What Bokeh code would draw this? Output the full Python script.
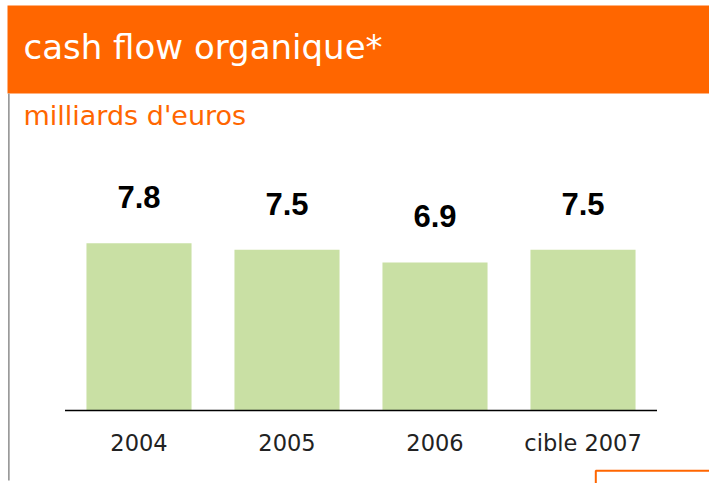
from bokeh.plotting import figure
from bokeh.models import Range1d, BoxAnnotation, Label, ColumnDataSource
from bokeh.core.properties import value
from bokeh.embed import file_html
from bokeh.resources import INLINE

# ---- data ----
categories = ["2004", "2005", "2006", "cible 2007"]
values = [7.8, 7.5, 6.9, 7.5]
value_labels = ["7.8", "7.5", "6.9", "7.5"]
title_text = "cash flow organique*"
subtitle_text = "milliards d'euros"

ORANGE = "#ff6600"
GREEN = "#c9e0a4"

W, H = 709, 483
# layout: category pitch 148px, first category centre 138.5px, zero line at 410px from top
PITCH, X0, Y0, YSCALE = 148.0, 138.5, 410.0, 21.45
x_start = -X0 / PITCH
x_end = x_start + W / PITCH
y_start = -(H - Y0) / YSCALE
y_end = y_start + H / YSCALE

p = figure(
    width=W, height=H,
    x_range=Range1d(x_start, x_end),
    y_range=Range1d(y_start, y_end),
    output_backend="svg", toolbar_location=None,
    x_axis_location=None, y_axis_location=None,
    min_border=0,
)
p.outline_line_color = None
p.grid.visible = False
p.background_fill_color = "white"
p.border_fill_color = "white"

idx = list(range(len(categories)))
src = ColumnDataSource(dict(x=idx, top=values, lab=value_labels, cat=categories,
                            zero=[0] * len(idx)))
p.vbar(x="x", top="top", bottom=0, width=0.71, source=src,
       fill_color=GREEN, line_color=None)
p.text(x="x", y="top", text="lab", source=src, text_align="center",
       text_baseline="alphabetic", y_offset=-46,
       text_font=value("Liberation Sans"), text_font_style="bold",
       text_font_size="31px", text_color="black")
p.text(x="x", y="zero", text="cat", source=src, text_align="center",
       text_baseline="alphabetic", y_offset=32,
       text_font=value("DejaVu Sans"), text_font_size="22.5px", text_color="#222222")
# baseline spanning the category slots
p.segment(x0=[-0.5], x1=[len(categories) - 0.5], y0=[0], y1=[0],
          line_color="black", line_width=1.5)

# header band
p.add_layout(BoxAnnotation(left=7, right=W, top=5, bottom=93,
                           left_units="canvas", right_units="canvas",
                           bottom_units="canvas", top_units="canvas",
                           fill_color=ORANGE, fill_alpha=1, line_color=None))
# grey left rule
p.add_layout(BoxAnnotation(left=7.5, right=9.2, top=93, bottom=480,
                           left_units="canvas", right_units="canvas",
                           bottom_units="canvas", top_units="canvas",
                           fill_color="#9a9a9a", fill_alpha=1, line_color=None))
# orange frame corner bottom right
p.add_layout(BoxAnnotation(left=595.3, right=W + 20, top=470.3, bottom=H + 20,
                           left_units="canvas", right_units="canvas",
                           bottom_units="canvas", top_units="canvas",
                           fill_alpha=0, line_color=ORANGE, line_alpha=1,
                           line_width=2))

p.add_layout(Label(x=23, y=46, x_units="canvas", y_units="canvas",
                   text=title_text, text_color="white",
                   text_font="DejaVu Sans", text_font_size="34px",
                   text_baseline="alphabetic"))
p.add_layout(Label(x=23, y=115, x_units="canvas", y_units="canvas",
                   text=subtitle_text, text_color=ORANGE,
                   text_font="DejaVu Sans", text_font_size="27px",
                   text_baseline="alphabetic"))

open("out.html", "w").write(file_html(p, INLINE))
